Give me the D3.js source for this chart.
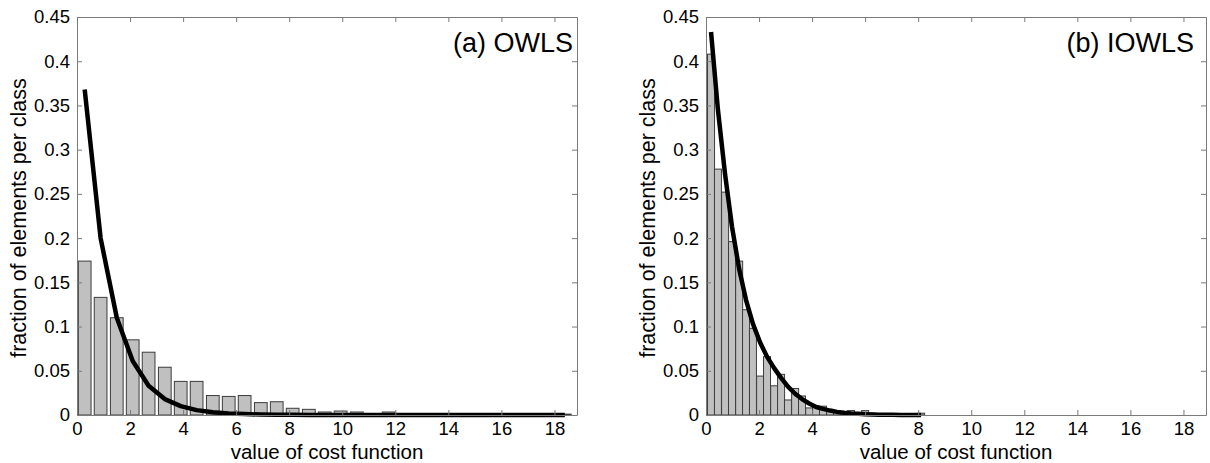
<!DOCTYPE html>
<html>
<head>
<meta charset="utf-8">
<script src="https://cdn.jsdelivr.net/npm/d3@7"></script>
<style>
  body { margin: 0; background: #fff; }
  text { font-family: "Liberation Sans", Arial, sans-serif; fill: #000; }
</style>
</head>
<body>
<div id="my_dataviz"></div>
<script>
// histogram data (bin centres, bar heights, fitted curve)
var leftCenters = [0.29, 0.89, 1.50, 2.10, 2.70, 3.31, 3.91, 4.51, 5.12, 5.72, 6.32, 6.93, 7.53, 8.13, 8.74, 9.34,
  9.94, 10.55, 11.15, 11.75, 12.36, 12.96, 13.56, 14.17, 14.77, 15.37, 15.98, 16.58, 17.18, 17.79, 18.39];
var leftBars = [0.174, 0.133, 0.110, 0.085, 0.071, 0.054, 0.038, 0.038, 0.022, 0.021, 0.022, 0.014, 0.015, 0.0076, 0.0064, 0.0034,
  0.0045, 0.0034, 0.001, 0.0034, 0.0006, 0.0005, 0.0005, 0, 0, 0, 0, 0, 0, 0, 0.001];
var leftLine = [0.368, 0.200, 0.110, 0.061, 0.033, 0.018, 0.010, 0.0055, 0.003, 0.0017, 0.001, 0.0005, 0.0003, 0.0002, 0.0001, 0,
  0, 0, 0, 0, 0, 0, 0, 0, 0, 0, 0, 0, 0, 0, 0];

var rightCenters = [0.19, 0.45, 0.72, 0.98, 1.25, 1.51, 1.77, 2.04, 2.30, 2.57, 2.83, 3.09, 3.36, 3.62, 3.89, 4.15,
  4.41, 4.68, 4.94, 5.21, 5.47, 5.73, 6.00, 6.26, 6.53, 6.79, 7.05, 7.32, 7.58, 7.85, 8.11];
var rightBars = [0.408, 0.278, 0.252, 0.196, 0.174, 0.119, 0.098, 0.044, 0.066, 0.033, 0.046, 0.017, 0.030, 0.0215, 0.008, 0.010,
  0.010, 0.005, 0.003, 0.003, 0.005, 0.002, 0.005, 0.002, 0.001, 0.001, 0.001, 0.001, 0.001, 0.001, 0.002];
var rightLine = [0.433, 0.345, 0.272, 0.213, 0.165, 0.130, 0.103, 0.082, 0.066, 0.053, 0.042, 0.032, 0.024, 0.018, 0.013, 0.009,
  0.007, 0.005, 0.0035, 0.0025, 0.0018, 0.0013, 0.0009, 0.0006, 0.0004, 0.0003, 0.0002, 0.0001, 0.0001, 0, 0];

var xTicks = [0, 2, 4, 6, 8, 10, 12, 14, 16, 18];
var yTicks = [0, 0.05, 0.1, 0.15, 0.2, 0.25, 0.3, 0.35, 0.4, 0.45];
var yTickLabels = ["0", "0.05", "0.1", "0.15", "0.2", "0.25", "0.3", "0.35", "0.4", "0.45"];
var titles = ["(a) OWLS", "(b) IOWLS"];

var W = 1210, H = 463;
var svg = d3.select("#my_dataviz")
  .append("svg")
    .attr("width", W)
    .attr("height", H);

// two panels, same size
var panels = [
  {left: 77, top: 17, width: 500, height: 398, centers: leftCenters, bars: leftBars, line: leftLine, barW: 0.48, title: titles[0], titleGap: 4},
  {left: 706, top: 17, width: 500, height: 398, centers: rightCenters, bars: rightBars, line: rightLine, barW: 0.264, title: titles[1], titleGap: 12}
];

var axisColor = "#7a7a7a";

panels.forEach(function(p) {
  var g = svg.append("g")
    .attr("transform", "translate(" + p.left + "," + p.top + ")");

  var x = d3.scaleLinear().domain([0, 18.85]).range([0, p.width]);
  var y = d3.scaleLinear().domain([0, 0.45]).range([p.height, 0]);

  // bars
  g.selectAll("rect.bar")
    .data(p.bars)
    .enter()
    .append("rect")
      .attr("class", "bar")
      .attr("x", function(d, i) { return x(p.centers[i] - p.barW / 2); })
      .attr("width", function(d, i) { return x(p.barW) - x(0); })
      .attr("y", function(d) { return y(d); })
      .attr("height", function(d) { return y(0) - y(d); })
      .style("fill", "#c0c0c0")
      .style("stroke", "#3c3c3c")
      .style("stroke-width", 1);

  // fitted curve
  g.append("path")
    .datum(p.line)
    .attr("d", d3.line()
      .x(function(d, i) { return x(p.centers[i]); })
      .y(function(d) { return y(d); }))
    .style("fill", "none")
    .style("stroke", "#000")
    .style("stroke-width", 4.5)
    .style("stroke-linejoin", "round");

  // box with inward ticks
  var bottom = g.append("g")
    .attr("transform", "translate(0," + p.height + ")")
    .call(d3.axisBottom(x).tickValues(xTicks).tickSize(-5).tickSizeOuter(0).tickPadding(7));
  var left = g.append("g")
    .call(d3.axisLeft(y).tickValues(yTicks).tickFormat(function(d, i) { return yTickLabels[i]; })
      .tickSize(-5).tickSizeOuter(0).tickPadding(7));
  var top = g.append("g")
    .call(d3.axisTop(x).tickValues(xTicks).tickFormat("").tickSize(-5).tickSizeOuter(0));
  var right = g.append("g")
    .attr("transform", "translate(" + p.width + ",0)")
    .call(d3.axisRight(y).tickValues(yTicks).tickFormat("").tickSize(-5).tickSizeOuter(0));

  [bottom, left, top, right].forEach(function(a) {
    a.selectAll("path, line").attr("stroke", axisColor);
    a.selectAll("text")
      .style("font-size", "18.5px")
      .style("font-family", "'Liberation Sans', Arial, sans-serif")
      .attr("fill", "#000");
  });

  // panel title inside the box
  g.append("text")
    .attr("x", p.width - p.titleGap)
    .attr("y", 35)
    .attr("text-anchor", "end")
    .style("font-size", "27px")
    .text(p.title);

  // axis labels
  g.append("text")
    .attr("x", p.width / 2)
    .attr("y", 442)
    .attr("text-anchor", "middle")
    .style("font-size", "20.5px")
    .text("value of cost function");

  g.append("text")
    .attr("transform", "translate(-51," + (p.height / 2 + 2) + ") rotate(-90)")
    .attr("text-anchor", "middle")
    .style("font-size", "21.5px")
    .text("fraction of elements per class");
});
</script>
</body>
</html>
